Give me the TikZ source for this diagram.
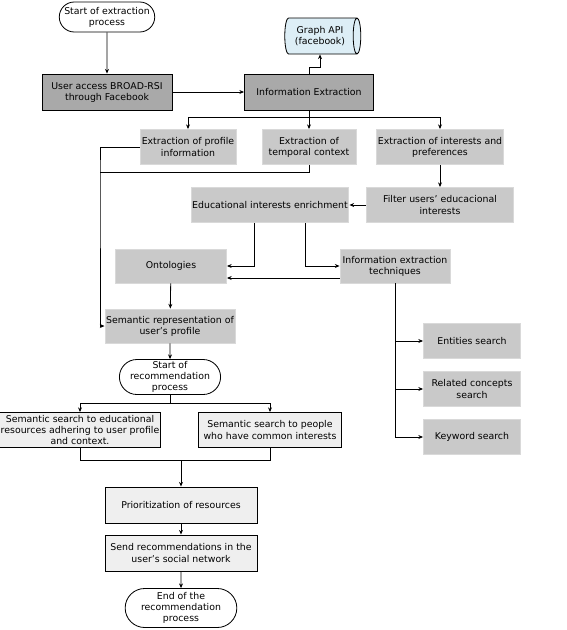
\documentclass[tikz,border=0pt]{standalone}
\usepackage{fontspec}
\setmainfont{DejaVu Sans}
\usetikzlibrary{arrows.meta,shapes.geometric,shapes.misc}
\definecolor{darkbox}{HTML}{A9A9A9}
\definecolor{lightbox}{HTML}{C9C9C9}
\definecolor{paleBox}{HTML}{EFEFEF}
\definecolor{apiblue}{HTML}{DDEEF6}
\begin{document}
\begin{tikzpicture}[x=0.03cm, y=-0.03cm,
  every node/.style={font=\fontsize{8}{9.4}\selectfont, align=center, inner sep=1pt},
  terminal/.style={draw, rounded rectangle, line width=0.7pt, fill=white},
  mainbox/.style={draw, line width=0.75pt, fill=darkbox},
  stepbox/.style={draw=black!15, line width=0.8pt, fill=lightbox},
  recbox/.style={draw, line width=0.75pt, fill=paleBox},
  link/.style={line width=0.7pt},
  arrow/.style={link, -{Stealth[length=4pt,width=3.4pt]}}]
% Set the canvas
\useasboundingbox (0,0) rectangle (567,630);

% Extraction part
\node[terminal, minimum width=2.85cm, minimum height=0.9cm] (start) at (107,17) {Start of extraction\\process};
\node[mainbox, minimum width=3.9cm, minimum height=1.08cm] (user) at (107,92) {User access BROAD-RSI\\through Facebook};
\node[mainbox, minimum width=3.87cm, minimum height=1.08cm] (ie) at (309,92) {Information Extraction};
\node[draw, cylinder, shape aspect=0.35, line width=0.7pt, fill=apiblue, minimum width=1.08cm, minimum height=2.28cm] (api) at (320,36) {Graph API\\(facebook)};
\node[stepbox, minimum width=2.88cm, minimum height=1.05cm] (profile) at (188,147) {Extraction of profile\\information};
\node[stepbox, minimum width=2.82cm, minimum height=1.05cm] (temporal) at (309,147) {Extraction of\\temporal context};
\node[stepbox, minimum width=3.78cm, minimum height=1.05cm] (interests) at (440,147) {Extraction of interests and\\preferences};
\node[stepbox, minimum width=4.41cm, minimum height=1.05cm] (filter) at (440,205) {Filter users’ educacional\\interests};
\node[stepbox, minimum width=4.47cm, minimum height=1.05cm] (enrich) at (270,205) {Educational interests enrichment};
\node[stepbox, minimum width=3.33cm, minimum height=1.02cm] (onto) at (171,266) {Ontologies};
\node[stepbox, minimum width=3.3cm, minimum height=1.02cm] (iet) at (395,266) {Information extraction\\techniques};
\node[stepbox, minimum width=3.81cm, minimum height=1.02cm] (semrep) at (170,326) {Semantic representation of\\user’s profile};
\node[stepbox, minimum width=2.91cm, minimum height=1.05cm] (entities) at (472,341) {Entities search};
\node[stepbox, minimum width=2.91cm, minimum height=1.05cm] (related) at (472,389) {Related concepts\\search};
\node[stepbox, minimum width=2.91cm, minimum height=1.05cm] (keyword) at (472,437) {Keyword search};

% Recommendation part
\node[terminal, minimum width=2.79cm, minimum height=1.05cm] (startrec) at (170,377) {Start of\\recommendation\\process};
\node[recbox, minimum width=4.65cm, minimum height=1.05cm] (seared) at (80,430) {Semantic search to educational\\resources adhering to user profile\\and context.};
\node[recbox, minimum width=4.29cm, minimum height=1.05cm] (seapeople) at (270,430) {Semantic search to people\\who have common interests};
\node[recbox, minimum width=4.56cm, minimum height=1.08cm] (prio) at (181,505) {Prioritization of resources};
\node[recbox, minimum width=4.56cm, minimum height=1.08cm] (send) at (181,553) {Send recommendations in the\\user’s social network};
\node[terminal, minimum width=3.42cm, minimum height=1.17cm] (end) at (181,608) {End of the\\recommendation\\process};

\coordinate (spine) at (100,172);
\coordinate (merge) at (181,460);

% Connectors
\draw[arrow] (start) -- (user);
\draw[arrow] (user) -- (ie);
\draw[arrow] (ie.north) -- ++(0,-6) -| (api.south);
\draw[arrow] (ie.south) -- (temporal.north);
\draw[arrow] (ie.south) -- ++(0,7) -| (profile.north);
\draw[arrow] (ie.south) -- ++(0,7) -| (interests.north);
\draw[arrow] (profile.west) -| (spine) |- (semrep.west);
\draw[link] (temporal.south) |- (spine);
\draw[arrow] (interests) -- (filter);
\draw[arrow] (filter) -- (enrich);
\draw[arrow] ([xshift=-0.48cm]enrich.south) |- (onto.east);
\draw[arrow] ([xshift=1.05cm]enrich.south) |- (iet.west);
\draw[arrow] ([yshift=-0.36cm]iet.west) -- ([yshift=-0.36cm]onto.east);
\draw[arrow] (onto) -- (semrep);
\draw[arrow] (semrep) -- (startrec);
\draw[arrow] (iet.south) |- (entities.west);
\draw[arrow] (iet.south) |- (related.west);
\draw[arrow] (iet.south) |- (keyword.west);
\draw[arrow] (startrec.south) -- ++(0,8) -| (seared.north);
\draw[arrow] (startrec.south) -- ++(0,8) -| (seapeople.north);
\draw[link] (seared.south) |- (merge);
\draw[link] (seapeople.south) |- (merge);
\draw[arrow] (merge) -- (prio.north);
\draw[arrow] (prio) -- (send);
\draw[arrow] (send) -- (end);
\end{tikzpicture}
\end{document}
